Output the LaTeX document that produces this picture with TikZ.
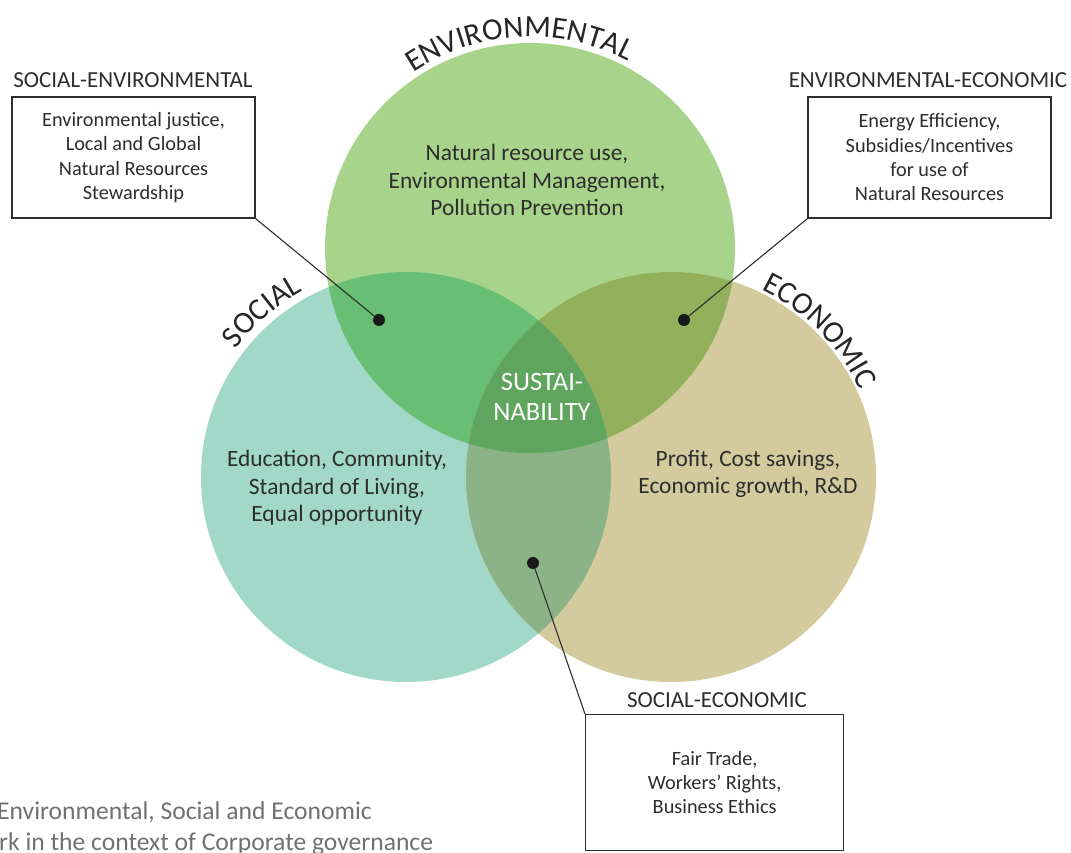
\documentclass[tikz,border=0pt]{standalone}
\usepackage{fontspec}
\setmainfont{Carlito}
\usepackage{tikz}
\usetikzlibrary{decorations.text}
\definecolor{envgreen}{RGB}{168,211,138}
\definecolor{socteal}{RGB}{162,216,200}
\definecolor{ecokhaki}{RGB}{211,203,158}
\definecolor{envsoc}{RGB}{104,190,114}
\definecolor{enveco}{RGB}{146,175,92}
\definecolor{soceco}{RGB}{140,179,136}
\definecolor{core}{RGB}{95,165,93}
\definecolor{inkgray}{RGB}{45,45,45}
\definecolor{capgray}{RGB}{112,112,112}
\newcommand{\boxfont}{\fontsize{20.3}{24.3}\selectfont}
\newcommand{\headfont}{\fontsize{23}{26}\selectfont}
\newcommand{\ringfont}{\fontsize{23.4}{27.5}\selectfont}
\newcommand{\arcfont}{\fontsize{31}{31}\selectfont}

\begin{document}
\begin{tikzpicture}[x=1pt, y=1pt,
    infobox/.style={draw=inkgray, line width=1.3pt, fill=white, align=center,
      inner sep=0pt, minimum width=243pt, minimum height=121pt,
      text=inkgray, font=\boxfont},
    header/.style={text=inkgray, font=\headfont, inner sep=0pt},
    ringtext/.style={text=inkgray, align=center, font=\ringfont, inner sep=0pt},
    hub/.style={circle, fill=black!90, inner sep=0pt, minimum size=12pt},
    leader/.style={draw=inkgray, line width=1.1pt},
    caption/.style={text=capgray, font=\fontsize{25.6}{30}\selectfont, inner sep=0pt, anchor=base west}]

  \useasboundingbox (0,0) rectangle (1071,852);

  \newcommand\R{205pt}
  \coordinate (env) at (530,604);
  \coordinate (soc) at (406,375);
  \coordinate (eco) at (671,375);

  %% the three circles
  \fill[envgreen] (env) circle[radius=\R];
  \fill[socteal] (soc) circle[radius=\R];
  \fill[ecokhaki] (eco) circle[radius=\R];

  %% overlaps
  \begin{scope}
    \clip (env) circle[radius=\R];
    \fill[envsoc] (soc) circle[radius=\R];
    \fill[enveco] (eco) circle[radius=\R];
  \end{scope}
  \begin{scope}
    \clip (soc) circle[radius=\R];
    \fill[soceco] (eco) circle[radius=\R];
    \clip (eco) circle[radius=\R];
    \fill[core] (env) circle[radius=\R];
  \end{scope}

  %% curved titles
  \path[decorate, decoration={text along path, text align=center, text color=black!85,
      text={|\arcfont|ENVIRONMENTAL}}] (env) ++(143:211pt) arc[start angle=143, end angle=43, radius=211pt];
  \path[decorate, decoration={text along path, text align=center, text color=black!85,
      text={|\arcfont|SOCIAL}}] (soc) ++(171:213pt) arc[start angle=171, end angle=91, radius=213pt];
  \path[decorate, decoration={text along path, text align=center, text color=black!85,
      text={|\arcfont|ECONOMIC}}] (eco) ++(95:208pt) arc[start angle=95, end angle=-6, radius=208pt];

  %% circle contents
  \node[ringtext] (envtext) at (527,672) {Natural resource use,\\Environmental Management,\\Pollution Prevention};
  \node[ringtext] (soctext) at (337,364) {Education, Community,\\Standard of Living,\\Equal opportunity};
  \node[ringtext] (ecotext) at (748,378) {Profit, Cost savings,\\Economic growth, R\&D};
  \node[ringtext, text=white, font=\fontsize{26.5}{30}\selectfont] (coretext) at (542,455) {SUSTAI-\\NABILITY};

  %% boxes
  \node[header] (sehead) at (133,772) {SOCIAL-ENVIRONMENTAL};
  \node[infobox] (sebox) at (133.5,694.5) {Environmental justice,\\Local and Global\\Natural Resources\\Stewardship};
  \node[header] (eehead) at (928,772) {ENVIRONMENTAL-ECONOMIC};
  \node[infobox] (eebox) at (929.5,694.5) {Energy Efficiency,\\Subsidies/Incentives\\for use of\\Natural Resources};
  \node[header] (schead) at (717,152) {SOCIAL-ECONOMIC};
  \node[infobox, minimum width=258pt, minimum height=136pt, anchor=north west] (scbox) at (585,138) {Fair Trade,\\Workers’ Rights,\\Business Ethics};

  %% dots and leaders
  \node[hub] (sedot) at (379,532) {};
  \node[hub] (eedot) at (684,532) {};
  \node[hub] (scdot) at (533,289) {};
  \draw[leader] (sebox.south east) -- (sedot);
  \draw[leader] (eebox.south west) -- (eedot);
  \draw[leader] (scdot) -- (scbox.north west);

  %% caption, cut by the page
  \node[caption] (cap1) at (-3,33) {Environmental, Social and Economic};
  \node[caption] (cap2) at (-1,2) {rk in the context of Corporate governance};

\end{tikzpicture}
\end{document}
